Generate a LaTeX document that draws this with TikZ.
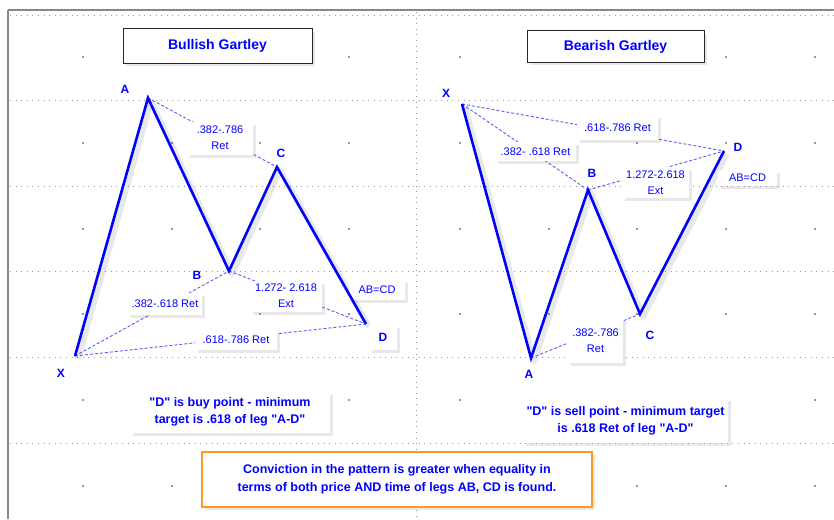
\documentclass[tikz,border=0pt]{standalone}
\usepackage{fontspec}
\setmainfont{Liberation Sans}[Ligatures=TeXOff]
\usetikzlibrary{shadows}
\definecolor{pblue}{RGB}{0,0,255}
\definecolor{dblue}{RGB}{90,90,255}
\definecolor{gridgray}{RGB}{150,150,150}
\definecolor{bordergray}{RGB}{135,135,135}
\definecolor{orng}{RGB}{255,150,40}
\tikzset{
  leg/.style={pblue, line width=2.6pt, line join=miter},
  legshadow/.style={black, opacity=0.09, line width=6pt, line join=round, transform canvas={shift={(3pt,-3pt)}}},
  ratio/.style={dblue, line width=0.9pt, dash pattern=on 3pt off 2pt},
  softshadow/.style={drop shadow={opacity=0.18, shadow xshift=3pt, shadow yshift=-3pt}},
  lbl/.style={fill=white, inner sep=0pt, align=center, text=pblue, font=\fontsize{11}{16}\selectfont, softshadow},
  ptlbl/.style={text=pblue, font=\bfseries\fontsize{12}{14}\selectfont, inner sep=0pt},
  titlebox/.style={draw=black!85, line width=1pt, fill=white, text=pblue, inner sep=0pt, font=\bfseries\fontsize{14}{16}\selectfont, softshadow},
  notebox/.style={fill=white, text=pblue, inner sep=0pt, align=center, font=\bfseries\fontsize{12.5}{17.3}\selectfont, softshadow},
  gridline/.style={gridgray, line width=0.8pt, dash pattern=on 1pt off 4.6pt},
  griddot/.style={fill=gridgray, draw=none, minimum size=1.3pt, inner sep=0pt},
}
\begin{document}
\begin{tikzpicture}[x=1pt,y=-1pt]
\useasboundingbox (0,0) rectangle (834,519);
\fill[white] (0,0) rectangle (834,519);
% grid
\foreach \yy in {15,100,186,271,357,443}
  \draw[gridline] (10,\yy) -- (834,\yy);
\draw[gridline] (416,12) -- (416,519);
\foreach \yy in {57,143,229,314,400,486}{
  \foreach \xx in {83,172,260,349,460,549,637,726,815}
    \node[griddot] at (\xx,\yy) {};
}
% borders
\draw[bordergray, line width=1.8pt] (8,10) -- (834,10);
\draw[bordergray, line width=2.2pt] (8,10) -- (8,519);

% ---------------- Bullish ----------------
\coordinate (bX) at (75,356);
\coordinate (bA) at (148,98);
\coordinate (bB) at (229,271);
\coordinate (bC) at (277,167);
\coordinate (bD) at (366,324);

\draw[legshadow] (bX) -- (bA) -- (bB) -- (bC) -- (bD);
\draw[ratio] (bA) -- (bC);
\draw[ratio] (bX) -- (bB);
\draw[ratio] (bB) -- (bD);
\draw[ratio] (bX) -- (bD);

\node[lbl, minimum width=66pt, minimum height=33pt] (bR1) at (220,138) {.382-.786\\Ret};
\node[lbl, minimum width=74pt, minimum height=22pt] (bR2) at (165,304) {.382-.618 Ret};
\node[lbl, minimum width=72pt, minimum height=31pt] (bE1) at (286,296) {1.272- 2.618\\Ext};
\node[lbl, minimum width=56pt, minimum height=20pt] (bAB) at (377,290) {AB=CD};
\node[lbl, minimum width=82pt, minimum height=20pt] (bR3) at (236,340) {.618-.786 Ret};
\node[fill=white, minimum width=28pt, minimum height=25pt, inner sep=0pt, softshadow] (bDbox) at (383,337) {};

\draw[leg] (bX) -- (bA) -- (bB) -- (bC) -- (bD);

\node[ptlbl] (bXl) at (61,373) {X};
\node[ptlbl] (bAl) at (125,89) {A};
\node[ptlbl] (bBl) at (197,275) {B};
\node[ptlbl] (bCl) at (281,153) {C};
\node[ptlbl] (bDl) at (383,337) {D};

\node[titlebox, minimum width=189pt, minimum height=34pt] (bTitle) at (217.5,46) {Bullish Gartley};
\node[notebox, minimum width=200pt, minimum height=41pt] (bNote) at (230,412) {"D" is buy point - minimum\\target is .618 of leg "A-D"};

% ---------------- Bearish ----------------
\coordinate (sX) at (462,104);
\coordinate (sA) at (531,358);
\coordinate (sB) at (588,190);
\coordinate (sC) at (640,314);
\coordinate (sD) at (724,151);

\draw[legshadow] (sX) -- (sA) -- (sB) -- (sC) -- (sD);
\draw[ratio] (sX) -- (sD);
\draw[ratio] (sX) -- (sB);
\draw[ratio] (sB) -- (sD);
\draw[ratio] (sA) -- (sC);

\node[lbl, minimum width=81pt, minimum height=25pt] (sR1) at (617.5,127.5) {.618-.786 Ret};
\node[lbl, minimum width=81pt, minimum height=19pt] (sR2) at (535.5,151.5) {.382- .618 Ret};
\node[lbl, minimum width=67pt, minimum height=31pt] (sE1) at (655.5,182.5) {1.272-2.618\\Ext};
\node[lbl, minimum width=59pt, minimum height=16pt] (sAB) at (747.5,178) {AB=CD};
\node[lbl, minimum width=55pt, minimum height=45pt] (sR3) at (595.5,340.5) {.382-.786\\Ret};

\draw[leg] (sX) -- (sA) -- (sB) -- (sC) -- (sD);

\node[ptlbl] (sXl) at (446,93) {X};
\node[ptlbl] (sAl) at (529,374) {A};
\node[ptlbl] (sBl) at (592,173) {B};
\node[ptlbl] (sCl) at (650,335) {C};
\node[ptlbl] (sDl) at (738,147) {D};

\node[titlebox, minimum width=177pt, minimum height=31pt] (sTitle) at (615.5,46.5) {Bearish Gartley};
\node[notebox, minimum width=205pt, minimum height=45pt] (sNote) at (625.5,420.5) {"D" is sell point - minimum target\\is .618 Ret of leg "A-D"};

% ---------------- Conviction ----------------
\node[notebox, draw=orng, line width=1.4pt, minimum width=390pt, minimum height=55pt, font=\bfseries\fontsize{12.5}{17.7}\selectfont] (conv) at (397,479.5) {Conviction in the pattern is greater when equality in\\terms of both price AND time of legs AB, CD is found.};
\end{tikzpicture}
\end{document}
